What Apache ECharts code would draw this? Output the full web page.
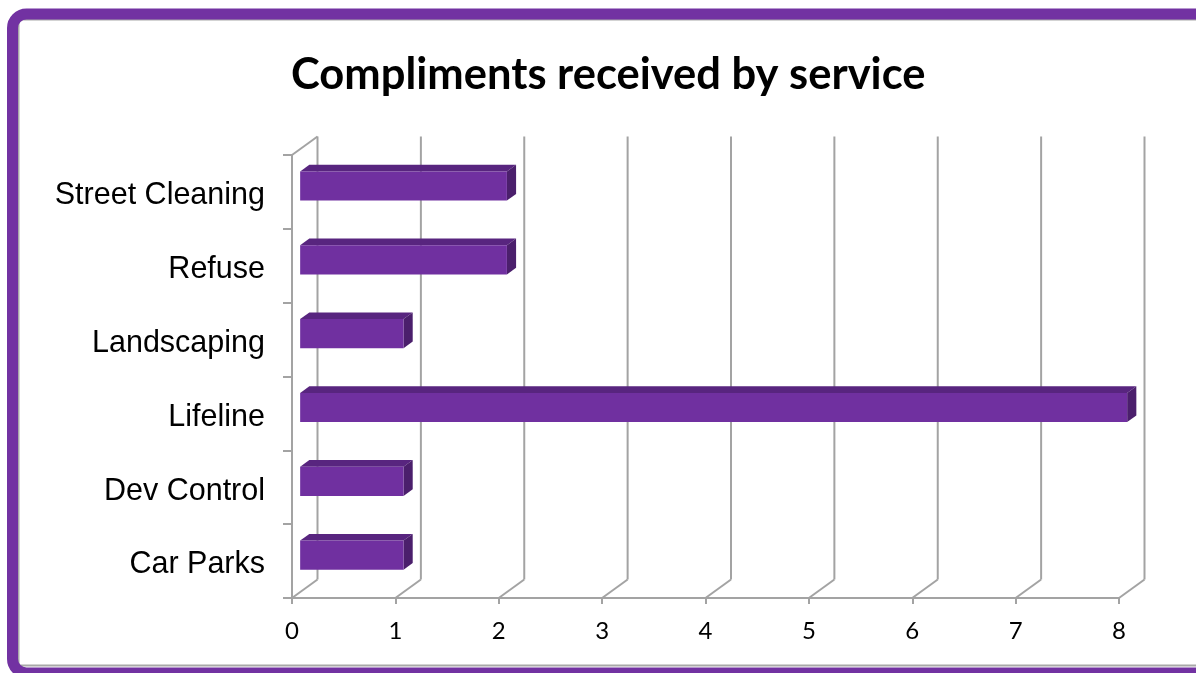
<!DOCTYPE html>
<html>
<head>
<meta charset="utf-8">
<script src="https://cdn.jsdelivr.net/npm/echarts@6/dist/echarts.min.js"></script>
<style>
html,body{margin:0;padding:0;background:#fff;}
#chart{width:1196px;height:673px;}
</style>
</head>
<body>
<div id="chart"></div>
<script>
const categories = ['Street Cleaning', 'Refuse', 'Landscaping', 'Lifeline', 'Dev Control', 'Car Parks'];
const values = [2, 2, 1, 8, 1, 1];
const xTicks = [0, 1, 2, 3, 4, 5, 6, 7, 8];

const DX = 25.5, DY = -18.5;      // depth offset of the back wall
const F0 = 0.32, F1 = 0.68;       // bar depth fractions
const BAR_FRAC = 0.395;           // bar thickness as fraction of band
const GRID_COLOR = '#a3a3a3';

const chart = echarts.init(document.getElementById('chart'));

function wallItem(params, api) {
  const cs = params.coordSys;
  const v = api.value(0);
  const x = api.coord([v, 0])[0];
  const yb = cs.y + cs.height;
  const yt = cs.y;
  const children = [
    { type: 'line', shape: { x1: x + DX, y1: yb + DY, x2: x + DX, y2: yt + DY },
      style: { stroke: GRID_COLOR, lineWidth: 2 } },
    { type: 'line', shape: { x1: x, y1: yb, x2: x + DX, y2: yb + DY },
      style: { stroke: GRID_COLOR, lineWidth: 2 } }
  ];
  if (v === 0) {
    children.push({ type: 'line', shape: { x1: x, y1: yt, x2: x + DX, y2: yt + DY },
      style: { stroke: GRID_COLOR, lineWidth: 2 } });
  }
  return { type: 'group', children };
}

function barItem(params, api) {
  const v = api.value(0);
  const c = api.value(1);
  const p0 = api.coord([0, c]);
  const p1 = api.coord([v, c]);
  const band = api.size([0, 1])[1];
  const h = band * BAR_FRAC;
  const fx = DX * F0, fy = DY * F0;
  const bx = DX * F1, by = DY * F1;
  const xl = p0[0] + fx, xr = p1[0] + fx;
  const yt = p0[1] + fy - h / 2, yb = p0[1] + fy + h / 2;
  const ddx = bx - fx, ddy = by - fy;
  return {
    type: 'group',
    children: [
      { type: 'polygon', shape: { points: [[xl, yt], [xl + ddx, yt + ddy], [xr + ddx, yt + ddy], [xr, yt]] },
        style: { fill: '#58257f' } },
      { type: 'polygon', shape: { points: [[xr, yt], [xr + ddx, yt + ddy], [xr + ddx, yb + ddy], [xr, yb]] },
        style: { fill: '#4b1f6c' } },
      { type: 'rect', shape: { x: xl, y: yt, width: xr - xl, height: h },
        style: { fill: '#7030a0' } }
    ]
  };
}

chart.setOption({
  animation: false,
  backgroundColor: '#fff',
  title: {
    text: 'Compliments received by service',
    left: 286,
    top: 48,
    textStyle: { fontFamily: 'Lato', fontWeight: 'bold', fontSize: 43.5, color: '#000' }
  },
  graphic: [
    { type: 'rect', z: 100, shape: { x: 12.5, y: 14, width: 1220, height: 659, r: 14 },
      style: { fill: 'none', stroke: '#7232a2', lineWidth: 11 } },
    { type: 'rect', z: 99, shape: { x: 18.5, y: 19.5, width: 1220, height: 646 },
      style: { fill: 'none', stroke: '#a8a8a8', lineWidth: 2 } }
  ],
  grid: { left: 292, right: 77, top: 155, bottom: 75 },
  xAxis: {
    type: 'value', min: 0, max: 8, interval: 1,
    axisLine: { show: true, lineStyle: { color: GRID_COLOR, width: 2 } },
    axisTick: { show: true, length: 6, lineStyle: { color: GRID_COLOR, width: 2 } },
    splitLine: { show: false },
    axisLabel: { fontFamily: 'Lato', fontSize: 24, color: '#000', margin: 21 }
  },
  yAxis: {
    type: 'category', data: categories, inverse: true,
    axisLine: { show: true, lineStyle: { color: GRID_COLOR, width: 2 } },
    axisTick: { show: true, length: 9, lineStyle: { color: GRID_COLOR, width: 2 } },
    axisLabel: {
      margin: 27,
      formatter: v => '{a|' + v + '}',
      rich: { a: { fontFamily: 'Liberation Sans', fontSize: 30.5, color: '#000', padding: [8, 0, 0, 0] } }
    }
  },
  series: [
    { type: 'custom', z: 1, renderItem: wallItem, data: xTicks.map(v => [v]), encode: { x: 0 }, silent: true },
    { type: 'custom', z: 3, renderItem: barItem, data: values.map((v, i) => [v, i]), encode: { x: 0, y: 1 } }
  ]
});
</script>
</body>
</html>
